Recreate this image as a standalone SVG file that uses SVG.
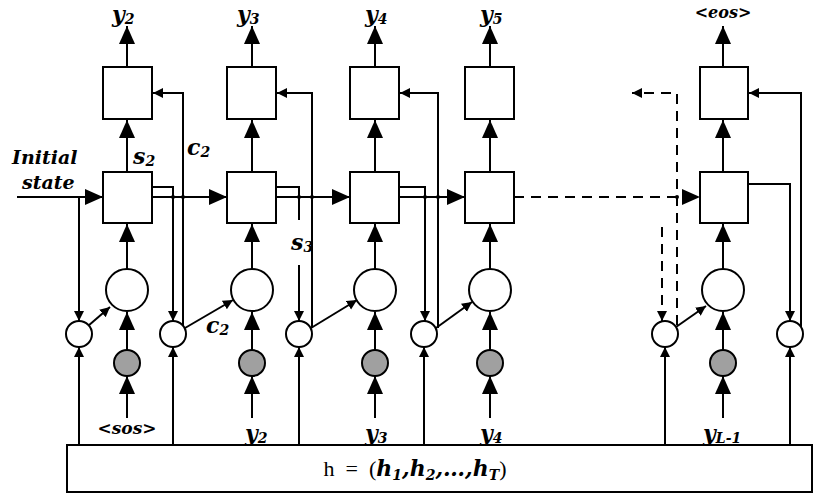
<svg xmlns="http://www.w3.org/2000/svg" width="831" height="501" viewBox="0 0 831 501">
<style>
.b{fill:#fff;stroke:#000;stroke-width:2}
.g{fill:#a0a0a0;stroke:#000;stroke-width:2}
.l{fill:none;stroke:#000;stroke-width:2}
.d{fill:none;stroke:#000;stroke-width:2;stroke-dasharray:10,7}
.t{font-family:"DejaVu Serif","Liberation Serif",serif;font-style:italic;font-weight:bold;font-size:22px}
.s{font-size:14px}
.bg{marker-end:url(#B)}
.sm{marker-end:url(#S)}
</style>
<defs>
<marker id="B" markerUnits="userSpaceOnUse" markerWidth="20" markerHeight="20" refX="18" refY="10" orient="auto"><path d="M0,2 L18,10 L0,18 Z"/></marker>
<marker id="S" markerUnits="userSpaceOnUse" markerWidth="12" markerHeight="12" refX="10" refY="6" orient="auto"><path d="M0,1 L10,6 L0,11 Z"/></marker>
</defs>
<g id="connectors">
<path class="l bg" d="M127,67V26"/><path class="l bg" d="M252,67V26"/><path class="l bg" d="M375,67V26"/><path class="l bg" d="M490,67V26"/><path class="l bg" d="M723,67V26"/>
<path class="l bg" d="M127,172V120"/><path class="l bg" d="M252,172V120"/><path class="l bg" d="M375,172V120"/><path class="l bg" d="M490,172V120"/><path class="l bg" d="M723,172V120"/>
<path class="l bg" d="M127,269V224"/><path class="l bg" d="M252,269V224"/><path class="l bg" d="M375,269V224"/><path class="l bg" d="M490,269V224"/><path class="l bg" d="M723,269V224"/>
<path class="l bg" d="M127,350V312"/><path class="l bg" d="M252,350V312"/><path class="l bg" d="M375,350V312"/><path class="l bg" d="M490,350V312"/><path class="l bg" d="M723,350V312"/>
<path class="l bg" d="M127,418V376"/><path class="l bg" d="M252,418V376"/><path class="l bg" d="M375,418V376"/><path class="l bg" d="M490,418V376"/><path class="l bg" d="M723,418V376"/>
<path class="l bg" d="M17,197H103"/>
<path class="l bg" d="M152,197H227"/>
<path class="l bg" d="M276,197H350"/>
<path class="l bg" d="M399,197H465"/>
<path class="d bg" d="M514,197H700"/>
<path class="l sm" d="M79,197V321"/>
<path class="l sm" d="M152,187H173V321"/>
<path class="l" d="M276,187H299V220"/>
<path class="l sm" d="M299,265V321"/>
<path class="l sm" d="M399,187H425V321"/>
<path class="l sm" d="M748,184H790V321"/>
<path class="d sm" d="M662,227V321"/>
<path class="l sm" d="M183,328V93H153"/>
<path class="l sm" d="M312,328V93H277"/>
<path class="l sm" d="M438,328V93H400"/>
<path class="l sm" d="M801,328V93H749"/>
<path class="d sm" d="M677,325V93H632"/>
<path class="l sm" d="M88,326L110,307"/>
<path class="l sm" d="M185,328L233,300"/>
<path class="l sm" d="M311,328L357,300"/>
<path class="l sm" d="M436,328L472,302"/>
<path class="l sm" d="M676,327L706,306"/>
<path class="l sm" d="M79,445V347"/><path class="l sm" d="M173,445V347"/><path class="l sm" d="M299,445V347"/><path class="l sm" d="M424,445V347"/><path class="l sm" d="M665,445V347"/><path class="l sm" d="M790,445V347"/>
<g fill="#000"><circle cx="173" cy="197" r="2"/><circle cx="183" cy="197" r="2"/><circle cx="299" cy="197" r="2"/><circle cx="312" cy="197" r="2"/><circle cx="425" cy="197" r="2"/><circle cx="438" cy="197" r="2"/><circle cx="677" cy="197" r="2"/></g>
</g>
<g id="out1"><rect class="b" x="103" y="67" width="49" height="52"/></g>
<g id="out2"><rect class="b" x="227" y="67" width="49" height="52"/></g>
<g id="out3"><rect class="b" x="350" y="67" width="49" height="52"/></g>
<g id="out4"><rect class="b" x="465" y="67" width="49" height="52"/></g>
<g id="out5"><rect class="b" x="700" y="67" width="48" height="52"/></g>
<g id="st1"><rect class="b" x="103" y="172" width="49" height="51"/></g>
<g id="st2"><rect class="b" x="227" y="172" width="49" height="51"/></g>
<g id="st3"><rect class="b" x="350" y="172" width="49" height="51"/></g>
<g id="st4"><rect class="b" x="465" y="172" width="49" height="51"/></g>
<g id="st5"><rect class="b" x="700" y="172" width="48" height="51"/></g>
<g id="att1"><circle class="b" cx="127" cy="290" r="21"/></g>
<g id="att2"><circle class="b" cx="252" cy="290" r="21"/></g>
<g id="att3"><circle class="b" cx="375" cy="290" r="21"/></g>
<g id="att4"><circle class="b" cx="490" cy="290" r="21"/></g>
<g id="att5"><circle class="b" cx="723" cy="290" r="21"/></g>
<g id="emb1"><circle class="g" cx="127" cy="363" r="13"/></g>
<g id="emb2"><circle class="g" cx="252" cy="363" r="13"/></g>
<g id="emb3"><circle class="g" cx="375" cy="363" r="13"/></g>
<g id="emb4"><circle class="g" cx="490" cy="363" r="13"/></g>
<g id="emb5"><circle class="g" cx="723" cy="363" r="13"/></g>
<g id="sc1"><circle class="b" cx="79" cy="334" r="13"/></g>
<g id="sc2"><circle class="b" cx="173" cy="334" r="13"/></g>
<g id="sc3"><circle class="b" cx="299" cy="334" r="13"/></g>
<g id="sc4"><circle class="b" cx="424" cy="334" r="13"/></g>
<g id="sc5"><circle class="b" cx="665" cy="334" r="13"/></g>
<g id="sc6"><circle class="b" cx="790" cy="334" r="13"/></g>
<g id="h"><rect class="b" x="67" y="445" width="745" height="47"/>
<text x="415" y="476" text-anchor="middle" font-family="Liberation Serif,serif" font-size="22" xml:space="preserve">h  =  (<tspan class="t">h<tspan class="s" dy="4">1</tspan><tspan dy="-4">,h</tspan><tspan class="s" dy="4">2</tspan><tspan dy="-4">,…,h</tspan><tspan class="s" dy="4">T</tspan></tspan><tspan dy="-4">)</tspan></text></g>
<g id="labels" class="t">
<text x="112" y="22">y<tspan class="s" dy="2">2</tspan></text>
<text x="237" y="22">y<tspan class="s" dy="2">3</tspan></text>
<text x="365" y="22">y<tspan class="s" dy="2">4</tspan></text>
<text x="480" y="22">y<tspan class="s" dy="2">5</tspan></text>
<text x="723" y="18" text-anchor="middle" font-size="16">&lt;eos&gt;</text>
<text x="12" y="164" font-size="19">Initial</text>
<text x="22" y="189" font-size="19">state</text>
<text x="133" y="164">s<tspan class="s" dy="2">2</tspan></text>
<text x="187" y="155">c<tspan class="s" dy="2">2</tspan></text>
<text x="206" y="333">c<tspan class="s" dy="2">2</tspan></text>
<text x="291" y="250">s<tspan class="s" dy="2">3</tspan></text>
<text x="127" y="434" text-anchor="middle" font-size="17">&lt;sos&gt;</text>
<text x="245" y="441">y<tspan class="s" dy="2">2</tspan></text>
<text x="365" y="441">y<tspan class="s" dy="2">3</tspan></text>
<text x="480" y="441">y<tspan class="s" dy="2">4</tspan></text>
<text x="703" y="441">y<tspan class="s" dy="2">L-1</tspan></text>
</g>
</svg>
